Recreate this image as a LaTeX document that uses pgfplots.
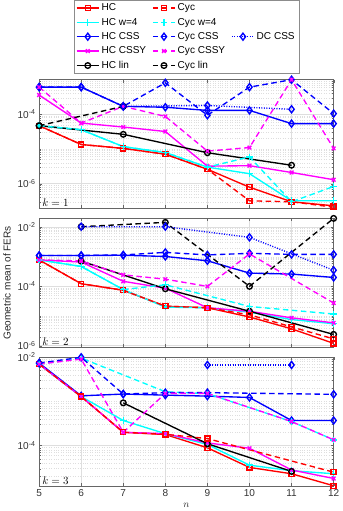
\documentclass[border=0pt]{standalone}
\usepackage{fontspec}
\setmainfont{Liberation Sans}
\usepackage{pgfplots}
\pgfplotsset{compat=1.18}
\usetikzlibrary{calc}

\definecolor{mred}{rgb}{1,0,0}
\definecolor{mcyan}{rgb}{0,1,1}
\definecolor{mblue}{rgb}{0,0,1}
\definecolor{mmag}{rgb}{1,0,1}

\pgfplotsset{
  mylegend/.style={
    legend image code/.code={\draw[mark repeat=2,mark phase=2,##1] plot coordinates {(0pt,0pt)(11pt,0pt)(22pt,0pt)};},
  },
  hcline/.style={mylegend, line width=1.35pt, solid, mark options={solid}},
  cycline/.style={mylegend, line width=1.35pt, dash pattern=on 5.5pt off 3.5pt, mark options={solid}},
  dcline/.style={mylegend, line width=1.35pt, dash pattern=on 1pt off 1.5pt, mark options={solid}},
  mksq/.style={mark=square, mark size=2.5pt},
  mkpl/.style={mark=+, mark size=3.3pt},
  mkdi/.style={mark=diamond, mark size=3.5pt},
  mkxx/.style={mark=x, mark size=2.6pt},
  mkci/.style={mark=o, mark size=2.8pt},
  every axis/.append style={
    width=293pt, height=128pt, scale only axis,
    xmin=5, xmax=12, xtick={5,...,12},
    clip=false,
    xmajorgrids, ymajorgrids, yminorgrids,
    major grid style={draw=black!13},
    minor grid style={draw=black!13, dotted},
    axis line style={draw=black!60},
    tick style={draw=black!60},
    major tick length=3pt, minor tick length=1.6pt,
    tick align=inside,
    tick label style={font=\fontsize{10}{11}\selectfont, text=black!80},
    label style={font=\fontsize{10}{11}\selectfont, text=black!85},
  },
}

\begin{document}
\begin{tikzpicture}
% ---------- k = 1 ----------
\begin{semilogyaxis}[name=p1,
  /pgf/number format/assume math mode=true,
  ymin=1.94e-7, ymax=1.0e-3,
  ytick={1e-6,1e-4}, yticklabels={10\textsuperscript{-6},10\textsuperscript{-4}},
  minor ytick={2e-7,3e-7,4e-7,5e-7,6e-7,7e-7,8e-7,9e-7,
    2e-6,3e-6,4e-6,5e-6,6e-6,7e-6,8e-6,9e-6,1e-5,
    2e-5,3e-5,4e-5,5e-5,6e-5,7e-5,8e-5,9e-5,
    2e-4,3e-4,4e-4,5e-4,6e-4,7e-4,8e-4,9e-4},
  xticklabels={},
  legend columns=3, legend cell align=left,
  legend style={at={(0.5,1)}, anchor=south, yshift=6pt, draw=black!45,
    font=\fontsize{10}{11}\selectfont, row sep=1.8pt, inner xsep=2pt, inner ysep=1.5pt,
    /tikz/every even column/.append style={column sep=4pt}},
]
\addplot[forget plot, hcline, mred, mksq] coordinates {(5,4.7e-5)(6,1.35e-5)(7,1.04e-5)(8,7.1e-6)(9,2.6e-6)(10,7.9e-7)(11,3.0e-7)(12,2.3e-7)};
\addplot[forget plot, hcline, mcyan, mkpl] coordinates {(5,4.7e-5)(6,3.6e-5)(7,1.17e-5)(8,7.9e-6)(9,3.0e-6)(10,1.94e-6)(11,3.2e-7)(12,3.2e-7)};
\addplot[forget plot, hcline, mblue, mkdi] coordinates {(5,6.1e-4)(6,6.1e-4)(7,1.7e-4)(8,1.6e-4)(9,1.3e-4)(10,1.3e-4)(11,5.4e-5)(12,5.4e-5)};
\addplot[forget plot, hcline, mmag, mkxx] coordinates {(5,3.6e-4)(6,5.6e-5)(7,4.3e-5)(8,3.2e-5)(9,3.2e-6)(10,3.3e-6)(11,2.1e-6)(12,1.3e-6)};
\addplot[forget plot, hcline, black, mkci] coordinates {(5,4.7e-5)(7,2.65e-5)(9,7.8e-6)(11,3.4e-6)};
\addplot[forget plot, cycline, mred, mksq] coordinates {(5,4.7e-5)(6,1.35e-5)(7,1.04e-5)(8,7.1e-6)(9,2.6e-6)(10,3.2e-7)(11,3.0e-7)(12,2.1e-7)};
\addplot[forget plot, cycline, mcyan, mkpl] coordinates {(5,4.7e-5)(6,3.6e-5)(7,1.17e-5)(8,7.9e-6)(9,3.0e-6)(10,5.9e-6)(11,3.0e-7)(12,8.3e-7)};
\addplot[forget plot, cycline, mblue, mkdi] coordinates {(5,6.1e-4)(6,6.1e-4)(7,1.7e-4)(8,8.1e-4)(9,9.4e-5)(10,6.1e-4)(11,1.0e-3)(12,1.05e-4)};
\addplot[forget plot, cycline, mmag, mkxx] coordinates {(5,6.1e-4)(6,5.6e-5)(7,1.7e-4)(8,8.7e-5)(9,8.7e-6)(10,1.1e-5)(11,1.0e-3)(12,1.04e-5)};
\addplot[forget plot, cycline, black, mkci] coordinates {(5,4.7e-5)(7,1.7e-4)};
\addplot[forget plot, dcline, mblue, mkdi] coordinates {(7,1.7e-4)(9,1.8e-4)(11,1.4e-4)};
% legend, filled row by row
\addlegendimage{hcline, mred, mksq}\addlegendentry{HC}
\addlegendimage{cycline, mred, mksq}\addlegendentry{Cyc}
\addlegendimage{empty legend}\addlegendentry{}
\addlegendimage{hcline, mcyan, mkpl}\addlegendentry{HC w=4}
\addlegendimage{cycline, mcyan, mkpl}\addlegendentry{Cyc w=4}
\addlegendimage{empty legend}\addlegendentry{}
\addlegendimage{hcline, mblue, mkdi}\addlegendentry{HC CSS}
\addlegendimage{cycline, mblue, mkdi}\addlegendentry{Cyc CSS}
\addlegendimage{dcline, mblue, mkdi}\addlegendentry{DC CSS}
\addlegendimage{hcline, mmag, mkxx}\addlegendentry{HC CSSY}
\addlegendimage{cycline, mmag, mkxx}\addlegendentry{Cyc CSSY}
\addlegendimage{empty legend}\addlegendentry{}
\addlegendimage{hcline, black, mkci}\addlegendentry{HC lin}
\addlegendimage{cycline, black, mkci}\addlegendentry{Cyc lin}
\node[anchor=south west, inner sep=1pt, xshift=2pt, yshift=0.5pt, font=\fontsize{11}{11}\selectfont] at (rel axis cs:0,0) {$k=1$};
\end{semilogyaxis}

% ---------- k = 2 ----------
\begin{semilogyaxis}[name=p2,
  at={($(p1.south west)+(0,-10pt)$)}, anchor=north west,
  /pgf/number format/assume math mode=true,
  ymin=9e-7, ymax=1.96e-2,
  ytick={1e-6,1e-4,1e-2}, yticklabels={10\textsuperscript{-6},10\textsuperscript{-4},10\textsuperscript{-2}},
  minor ytick={2e-6,3e-6,4e-6,5e-6,6e-6,7e-6,8e-6,9e-6,1e-5,
    2e-5,3e-5,4e-5,5e-5,6e-5,7e-5,8e-5,9e-5,
    2e-4,3e-4,4e-4,5e-4,6e-4,7e-4,8e-4,9e-4,1e-3,
    2e-3,3e-3,4e-3,5e-3,6e-3,7e-3,8e-3,9e-3},
  xticklabels={},
  ylabel={Geometric mean of FERs},
]
\addplot[hcline, mred, mksq] coordinates {(5,7.8e-4)(6,1.23e-4)(7,7.4e-5)(8,2.15e-5)(9,1.9e-5)(10,9.3e-6)(11,3.7e-6)(12,1.2e-6)};
\addplot[hcline, mcyan, mkpl] coordinates {(5,7.8e-4)(6,4.7e-4)(7,7.8e-5)(8,2.0e-5)(9,1.9e-5)(10,1.35e-5)(11,7.6e-6)(12,5.5e-6)};
\addplot[hcline, mblue, mkdi] coordinates {(5,1.1e-3)(6,1.1e-3)(7,1.12e-3)(8,1.02e-3)(9,7.3e-4)(10,2.8e-4)(11,2.6e-4)(12,2.0e-4)};
\addplot[hcline, mmag, mkxx] coordinates {(5,7.8e-4)(6,6.6e-4)(7,1.48e-4)(8,8.7e-5)(9,1.9e-5)(10,1.45e-5)(11,8.7e-6)(12,5.9e-6)};
\addplot[hcline, black, mkci] coordinates {(6,7.1e-4)(8,8.3e-5)(10,1.45e-5)(12,2.4e-6)};
\addplot[cycline, mred, mksq] coordinates {(5,7.8e-4)(6,1.23e-4)(7,7.4e-5)(8,2.15e-5)(9,1.9e-5)(10,1.1e-5)(11,4.3e-6)(12,1.7e-6)};
\addplot[cycline, mcyan, mkpl] coordinates {(5,7.8e-4)(6,4.7e-4)(7,7.8e-5)(8,1.13e-4)(10,2.1e-5)(12,1.17e-5)};
\addplot[cycline, mblue, mkdi] coordinates {(5,1.1e-3)(6,1.1e-3)(7,1.15e-3)(8,1.4e-3)(9,1.15e-3)(10,1.3e-3)(11,1.2e-3)(12,1.2e-3)};
\addplot[cycline, mmag, mkxx] coordinates {(5,7.8e-4)(6,7.2e-4)(7,2.45e-4)(8,1.75e-4)(9,1.0e-4)(10,1.24e-3)(12,2.75e-5)};
\addplot[cycline, black, mkci] coordinates {(6,1.03e-2)(8,1.44e-2)(10,1.0e-4)(12,1.96e-2)};
\addplot[dcline, mblue, mkdi] coordinates {(6,1.03e-2)(8,1.03e-2)(10,4.5e-3)(12,3.5e-4)};
\node[anchor=south west, inner sep=1pt, xshift=2pt, yshift=0.5pt, font=\fontsize{11}{11}\selectfont] at (rel axis cs:0,0) {$k=2$};
\end{semilogyaxis}

% ---------- k = 3 ----------
\begin{semilogyaxis}[name=p3,
  at={($(p2.south west)+(0,-10pt)$)}, anchor=north west,
  /pgf/number format/assume math mode=true,
  ymin=1.23e-5, ymax=1.01e-2,
  ytick={1e-4,1e-2}, yticklabels={10\textsuperscript{-4},10\textsuperscript{-2}},
  minor ytick={2e-5,3e-5,4e-5,5e-5,6e-5,7e-5,8e-5,9e-5,
    2e-4,3e-4,4e-4,5e-4,6e-4,7e-4,8e-4,9e-4,1e-3,
    2e-3,3e-3,4e-3,5e-3,6e-3,7e-3,8e-3,9e-3},
  xlabel={$n$},
]
\addplot[hcline, mred, mksq] coordinates {(5,7.0e-3)(6,1.29e-3)(7,2.0e-4)(8,1.78e-4)(9,8.9e-5)(10,3.2e-5)(11,2.3e-5)(12,1.23e-5)};
\addplot[hcline, mcyan, mkpl] coordinates {(5,7.0e-3)(6,1.29e-3)(7,3.7e-4)(8,1.86e-4)(9,1.06e-4)(10,3.6e-5)(11,2.7e-5)(12,2.3e-5)};
\addplot[hcline, mblue, mkdi] coordinates {(5,7.4e-3)(6,1.34e-3)(7,1.47e-3)(8,1.39e-3)(9,1.32e-3)(10,1.23e-3)(11,3.7e-4)(12,3.7e-4)};
\addplot[hcline, mmag, mkxx] coordinates {(5,7.0e-3)(6,1.29e-3)(7,2.0e-4)(8,1.86e-4)(9,1.15e-4)(10,8.7e-5)(11,2.8e-5)(12,1.8e-5)};
\addplot[hcline, black, mkci] coordinates {(7,9.3e-4)(9,1.1e-4)(11,2.6e-5)};
\addplot[cycline, mred, mksq] coordinates {(5,7.0e-3)(6,1.29e-3)(7,2.0e-4)(8,1.8e-4)(9,1.44e-4)(12,2.5e-5)};
\addplot[cycline, mcyan, mkpl] coordinates {(5,7.0e-3)(6,9.6e-3)(8,1.66e-3)(9,1.5e-3)(11,3.5e-4)(12,1.35e-4)};
\addplot[cycline, mblue, mkdi] coordinates {(5,7.4e-3)(6,1.0e-2)(7,1.47e-3)(8,1.58e-3)(9,1.58e-3)(12,1.45e-3)};
\addplot[cycline, mmag, mkxx] coordinates {(5,7.0e-3)(6,9.1e-3)(7,2.0e-4)(8,1.52e-3)(9,1.52e-3)(11,3.5e-4)(12,1.35e-4)};
\addplot[dcline, mblue, mkdi] coordinates {(9,6.7e-3)(11,6.7e-3)};
\node[anchor=south west, inner sep=1pt, xshift=2pt, yshift=0.5pt, font=\fontsize{11}{11}\selectfont] at (rel axis cs:0,0) {$k=3$};
\end{semilogyaxis}
\end{tikzpicture}
\end{document}
